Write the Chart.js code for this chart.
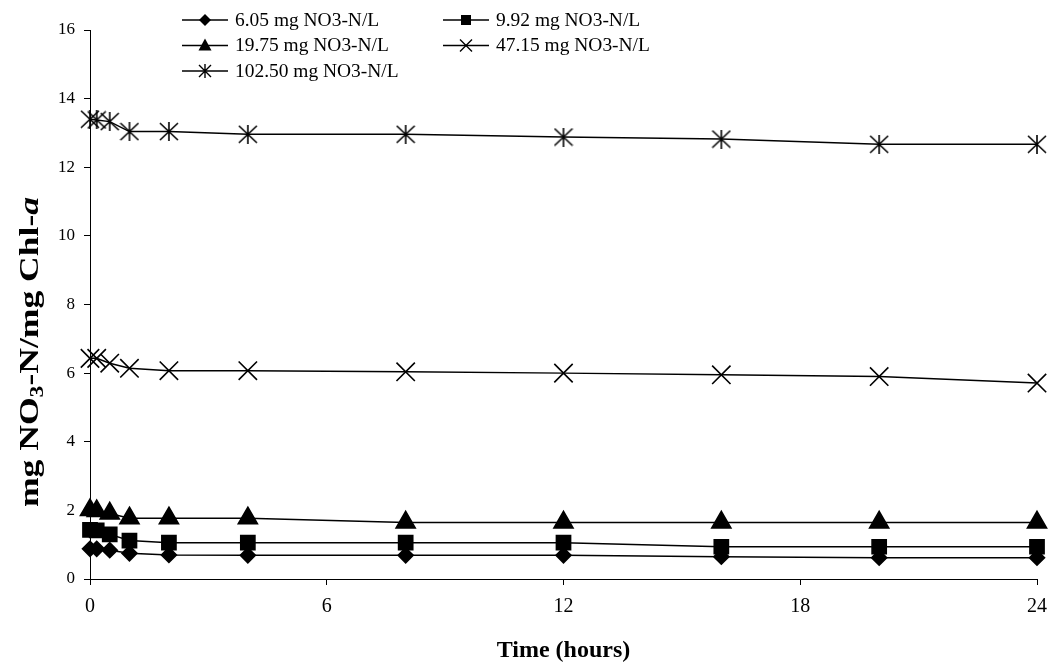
<!DOCTYPE html>
<html>
<head>
<meta charset="utf-8">
<script src="https://cdn.jsdelivr.net/npm/chart.js@4.4.0/dist/chart.umd.min.js"></script>
<style>
  html, body { margin: 0; padding: 0; background: #fff; }
  #wrap { width: 1053px; height: 667px; position: relative; }
</style>
</head>
<body>
<div id="wrap"><canvas id="nitrateChart"></canvas></div>
<script>
// sampling times (hours)
const hours = [0, 0.17, 0.5, 1, 2, 4, 8, 12, 16, 20, 24];

// mg NO3-N / mg Chl-a for each initial nitrate concentration
const conc605 = [0.88, 0.88, 0.84, 0.75, 0.70, 0.69, 0.69, 0.69, 0.65, 0.62, 0.62];
const conc992 = [1.43, 1.42, 1.30, 1.12, 1.06, 1.06, 1.06, 1.06, 0.94, 0.94, 0.94];
const conc1975 = [2.01, 1.98, 1.91, 1.77, 1.77, 1.77, 1.65, 1.65, 1.65, 1.65, 1.65];
const conc4715 = [6.43, 6.43, 6.29, 6.14, 6.07, 6.07, 6.04, 6.00, 5.95, 5.90, 5.71];
const conc10250 = [13.40, 13.38, 13.33, 13.04, 13.04, 12.96, 12.96, 12.88, 12.82, 12.67, 12.67];

const seriesLabels = [
  '6.05 mg NO3-N/L',
  '9.92 mg NO3-N/L',
  '19.75 mg NO3-N/L',
  '47.15 mg NO3-N/L',
  '102.50 mg NO3-N/L'
];

const xTicks = [0, 6, 12, 18, 24];
const yTicks = [0, 2, 4, 6, 8, 10, 12, 14, 16];

const SERIF = '"Liberation Serif", "Times New Roman", serif';

// excel style asterisk: an x with a vertical bar through it
function makeAsterisk(w, h, lw) {
  const c = document.createElement('canvas');
  c.width = w;
  c.height = h;
  const g = c.getContext('2d');
  g.strokeStyle = '#000';
  g.lineWidth = lw;
  g.beginPath();
  g.moveTo(1, 1); g.lineTo(w - 1, h - 1);
  g.moveTo(w - 1, 1); g.lineTo(1, h - 1);
  g.moveTo(w / 2, 0); g.lineTo(w / 2, h);
  g.stroke();
  return c;
}

const asteriskBig = makeAsterisk(20, 19, 1.6);

const markerStyles = ['rectRot', 'rect', 'triangle', 'crossRot', asteriskBig];
const markerRadius = [7.5, 10, 11, 13, 10];
const seriesData = [conc605, conc992, conc1975, conc4715, conc10250];

const datasets = seriesData.map((vals, i) => ({
  label: seriesLabels[i],
  data: hours.map((h, j) => ({ x: h, y: vals[j] })),
  borderColor: '#000',
  backgroundColor: '#000',
  borderWidth: 1.5,
  pointStyle: markerStyles[i],
  pointRadius: markerRadius[i],
  pointBorderWidth: 1.6,
  pointBackgroundColor: '#000',
  pointBorderColor: '#000',
  tension: 0,
  clip: false
}));

// small markers for the legend
function drawLegendMarker(ctx, i, x, y) {
  ctx.save();
  ctx.fillStyle = '#000';
  ctx.strokeStyle = '#000';
  ctx.lineWidth = 1.4;
  ctx.beginPath();
  if (i === 0) {
    ctx.moveTo(x, y - 6); ctx.lineTo(x + 6, y); ctx.lineTo(x, y + 6); ctx.lineTo(x - 6, y);
    ctx.closePath(); ctx.fill();
  } else if (i === 1) {
    ctx.rect(x - 5, y - 5, 10, 10); ctx.fill();
  } else if (i === 2) {
    ctx.moveTo(x, y - 7); ctx.lineTo(x + 6.5, y + 5); ctx.lineTo(x - 6.5, y + 5);
    ctx.closePath(); ctx.fill();
  } else if (i === 3) {
    ctx.moveTo(x - 6, y - 6); ctx.lineTo(x + 6, y + 6);
    ctx.moveTo(x + 6, y - 6); ctx.lineTo(x - 6, y + 6);
    ctx.stroke();
  } else {
    ctx.moveTo(x - 6, y - 6); ctx.lineTo(x + 6, y + 6);
    ctx.moveTo(x + 6, y - 6); ctx.lineTo(x - 6, y + 6);
    ctx.moveTo(x, y - 7); ctx.lineTo(x, y + 7);
    ctx.stroke();
  }
  ctx.restore();
}

// legend: two columns, three rows, up at the top of the chart
const legendPlugin = {
  id: 'gridLegend',
  afterDraw(chart) {
    const ctx = chart.ctx;
    const colX = [182, 443];
    const rowY = [20, 45.5, 71];
    ctx.save();
    seriesLabels.forEach((lab, i) => {
      const x0 = colX[i % 2];
      const y = rowY[Math.floor(i / 2)];
      ctx.strokeStyle = '#000';
      ctx.lineWidth = 1.5;
      ctx.beginPath();
      ctx.moveTo(x0, y);
      ctx.lineTo(x0 + 46, y);
      ctx.stroke();
      drawLegendMarker(ctx, i, x0 + 23, y);
      ctx.save();
      ctx.translate(x0 + 53, y);
      ctx.scale(1.08, 1);
      ctx.fillStyle = '#000';
      ctx.font = '18px ' + SERIF;
      ctx.textBaseline = 'middle';
      ctx.textAlign = 'left';
      ctx.fillText(lab, 0, 1);
      ctx.restore();
    });
    ctx.restore();
  }
};

// y title with subscript 3 and italic a
const yTitlePlugin = {
  id: 'yTitle',
  afterDraw(chart) {
    const ctx = chart.ctx;
    const parts = [
      { t: 'mg NO', f: 'bold 27px ' + SERIF, dy: 0 },
      { t: '3', f: 'bold 18px ' + SERIF, dy: 5 },
      { t: '-N/mg Chl-', f: 'bold 27px ' + SERIF, dy: 0 },
      { t: 'a', f: 'italic bold 27px ' + SERIF, dy: 0 }
    ];
    ctx.save();
    let total = 0;
    parts.forEach(p => { ctx.font = p.f; p.w = ctx.measureText(p.t).width; total += p.w; });
    ctx.translate(29, 352);
    ctx.rotate(-Math.PI / 2);
    ctx.scale(310 / total, 1);
    ctx.fillStyle = '#000';
    ctx.textBaseline = 'alphabetic';
    let x = -total / 2;
    parts.forEach(p => {
      ctx.font = p.f;
      ctx.fillText(p.t, x, 9 + p.dy);
      x += p.w;
    });
    ctx.restore();
  }
};

new Chart(document.getElementById('nitrateChart'), {
  type: 'line',
  data: { datasets: datasets },
  options: {
    responsive: true,
    maintainAspectRatio: false,
    animation: false,
    layout: { padding: { left: 0, right: 16, top: 30, bottom: 0 } },
    plugins: {
      legend: { display: false },
      tooltip: { enabled: false }
    },
    scales: {
      x: {
        type: 'linear',
        min: 0,
        max: 24,
        afterBuildTicks: (scale) => { scale.ticks = xTicks.map(v => ({ value: v })); },
        afterFit: (scale) => {
          scale.height = 88;
          scale.paddingLeft = 0;
          scale.paddingRight = 0;
        },
        ticks: { color: '#000', font: { family: SERIF, size: 20 }, padding: 10, maxRotation: 0 },
        grid: { display: true, drawOnChartArea: false, drawTicks: true, tickLength: 6, color: '#000', lineWidth: 1 },
        border: { display: true, color: '#000', width: 1 },
        title: {
          display: true,
          text: 'Time (hours)',
          color: '#000',
          font: { family: SERIF, size: 24, weight: 'bold' },
          padding: { top: 0, bottom: 2 }
        }
      },
      y: {
        min: 0,
        max: 16,
        afterBuildTicks: (scale) => { scale.ticks = yTicks.map(v => ({ value: v })); },
        afterFit: (scale) => {
          scale.width = 90;
          scale.paddingTop = 0;
          scale.paddingBottom = 0;
        },
        ticks: { color: '#000', font: { family: SERIF, size: 17 }, padding: 9 },
        grid: { display: true, drawOnChartArea: false, drawTicks: true, tickLength: 6, color: '#000', lineWidth: 1 },
        border: { display: true, color: '#000', width: 1 }
      }
    }
  },
  plugins: [legendPlugin, yTitlePlugin]
});
</script>
</body>
</html>
